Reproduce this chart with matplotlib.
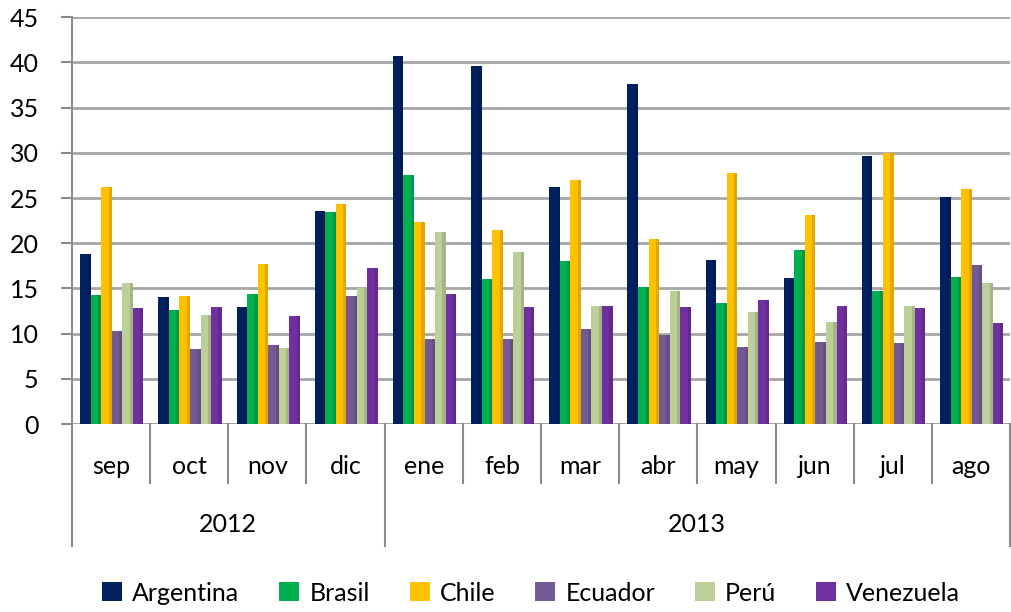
import matplotlib.pyplot as plt
import numpy as np

plt.rcParams['font.family'] = ['Lato', 'DejaVu Sans']

months = ["sep", "oct", "nov", "dic", "ene", "feb", "mar", "abr", "may", "jun", "jul", "ago"]
years = ["2012", "2013"]
year_counts = [4, 8]
countries = ["Argentina", "Brasil", "Chile", "Ecuador", "Perú", "Venezuela"]
colors = ["#002060", "#00B050", "#FFC000", "#735A94", "#BCCF98", "#7030A0"]

argentina = [18.8, 14.1, 13.0, 23.6, 40.7, 39.6, 26.2, 37.6, 18.2, 16.2, 29.6, 25.1]
brasil    = [14.3, 12.6, 14.4, 23.4, 27.6, 16.0, 18.0, 15.2, 13.4, 19.2, 14.7, 16.3]
chile     = [26.2, 14.2, 17.7, 24.3, 22.4, 21.5, 27.0, 20.5, 27.8, 23.1, 30.0, 26.0]
ecuador   = [10.3,  8.3,  8.7, 14.2,  9.4,  9.4, 10.5,  9.8,  8.5,  9.1,  9.0, 17.6]
peru      = [15.6, 12.1,  8.4, 15.0, 21.2, 19.0, 13.1, 14.7, 12.4, 11.3, 13.1, 15.6]
venezuela = [12.8, 13.0, 12.0, 17.3, 14.4, 12.9, 13.1, 12.9, 13.7, 13.1, 12.8, 11.2]
series = [argentina, brasil, chile, ecuador, peru, venezuela]

fig = plt.figure(figsize=(10.12, 6.12), dpi=100)
ax = fig.add_axes([0.0711, 0.307, 0.927, 0.665])

x = np.arange(len(months))
w = 0.135
for i, (vals, c) in enumerate(zip(series, colors)):
    off = (i - 2.5) * w + 0.01
    ax.bar(x + off, vals, width=w, color=c, zorder=3, label=countries[i])
    # slight darker side to hint the 3D look
    ax.bar(x + off + w * 0.35, vals, width=w * 0.3, color="black", alpha=0.12, zorder=4)

ax.set_xlim(-0.5, len(months) - 0.5)
ax.set_ylim(0, 45)
ax.set_yticks(np.arange(0, 46, 5))
ax.tick_params(axis='y', labelsize=18, length=8, color="#8C8C8C", width=1.5, pad=16)
ax.set_xticks([])
for s in ["top", "right", "bottom"]:
    ax.spines[s].set_visible(False)
ax.spines["left"].set_color("#8C8C8C")
ax.spines["left"].set_linewidth(1.5)
ax.yaxis.grid(True, color="#A6A6A6", linewidth=2, zorder=0)
ax.set_axisbelow(True)
ax.axhline(0, color="#A6A6A6", linewidth=2, zorder=1)

# two-level category axis
trans = ax.get_xaxis_transform()
for k in range(len(months) + 1):
    depth = -0.30 if k in (0, 4, 12) else -0.145
    ax.plot([k - 0.5, k - 0.5], [0, depth], transform=trans,
            color="#8C8C8C", linewidth=1.5, clip_on=False)
for k, m in enumerate(months):
    ax.text(k, -0.105, m, transform=trans, ha="center", va="center", fontsize=18)
start = 0
for yr, n in zip(years, year_counts):
    ax.text(start + n / 2 - 0.5, -0.246, yr, transform=trans, ha="center", va="center", fontsize=18)
    start += n

fig.legend(loc="center", bbox_to_anchor=(0.525, 0.031), ncol=6, frameon=False,
           fontsize=18, handlelength=0.8, handleheight=0.8, handletextpad=0.4, columnspacing=1.6)

fig.savefig("out.png", dpi=100)
